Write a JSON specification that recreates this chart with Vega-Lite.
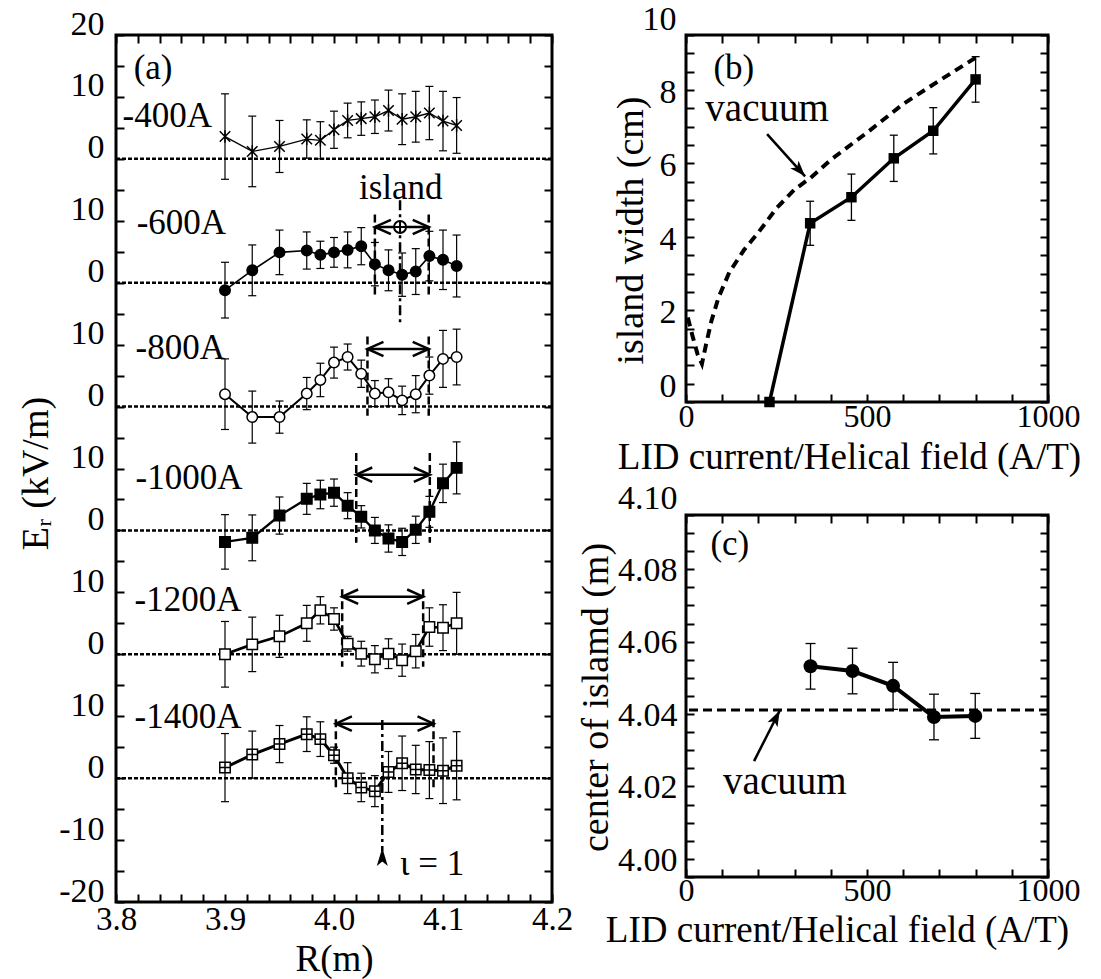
{
"$schema": "https://vega.github.io/schema/vega-lite/v6.json",
"background": "white",
"padding": {"left": 15, "top": 0, "right": 0, "bottom": 0},
"bounds": "flush",
"spacing": 134,
"datasets": {
"traces": [
{"I":-400,"R":3.9,"Er":3.6,"err":6.9},{"I":-400,"R":3.925,"Er":1.2,"err":5.7},{"I":-400,"R":3.95,"Er":2.0,"err":4.2},{"I":-400,"R":3.975,"Er":3.2,"err":3.1},{"I":-400,"R":3.9875,"Er":3.0,"err":3.0},{"I":-400,"R":4.0,"Er":4.7,"err":3.0},{"I":-400,"R":4.0125,"Er":6.2,"err":2.8},{"I":-400,"R":4.025,"Er":6.5,"err":2.7},{"I":-400,"R":4.0375,"Er":6.8,"err":2.7},{"I":-400,"R":4.05,"Er":7.8,"err":3.3},{"I":-400,"R":4.0625,"Er":6.4,"err":4.1},{"I":-400,"R":4.075,"Er":6.8,"err":4.1},{"I":-400,"R":4.0875,"Er":7.4,"err":4.3},{"I":-400,"R":4.1,"Er":6.1,"err":4.8},{"I":-400,"R":4.1125,"Er":5.4,"err":4.5},
{"I":-600,"R":3.9,"Er":-1.2,"err":4.5},{"I":-600,"R":3.925,"Er":2.0,"err":4.1},{"I":-600,"R":3.95,"Er":4.9,"err":3.6},{"I":-600,"R":3.975,"Er":5.2,"err":3.0},{"I":-600,"R":3.9875,"Er":4.5,"err":2.2},{"I":-600,"R":4.0,"Er":4.9,"err":2.4},{"I":-600,"R":4.0125,"Er":5.3,"err":2.9},{"I":-600,"R":4.025,"Er":5.9,"err":3.0},{"I":-600,"R":4.0375,"Er":3.0,"err":3.5},{"I":-600,"R":4.05,"Er":2.0,"err":3.3},{"I":-600,"R":4.0625,"Er":1.3,"err":3.5},{"I":-600,"R":4.075,"Er":1.8,"err":3.7},{"I":-600,"R":4.0875,"Er":4.3,"err":4.0},{"I":-600,"R":4.1,"Er":3.7,"err":4.8},{"I":-600,"R":4.1125,"Er":2.7,"err":5.0},
{"I":-800,"R":3.9,"Er":2.0,"err":5.7},{"I":-800,"R":3.925,"Er":-1.7,"err":4.2},{"I":-800,"R":3.95,"Er":-1.7,"err":2.6},{"I":-800,"R":3.975,"Er":2.1,"err":2.6},{"I":-800,"R":3.9875,"Er":4.3,"err":2.7},{"I":-800,"R":4.0,"Er":7.1,"err":2.5},{"I":-800,"R":4.0125,"Er":8.0,"err":2.1},{"I":-800,"R":4.025,"Er":5.3,"err":2.2},{"I":-800,"R":4.0375,"Er":2.1,"err":2.1},{"I":-800,"R":4.05,"Er":2.3,"err":2.2},{"I":-800,"R":4.0625,"Er":1.0,"err":2.3},{"I":-800,"R":4.075,"Er":2.0,"err":3.0},{"I":-800,"R":4.0875,"Er":5.0,"err":3.0},{"I":-800,"R":4.1,"Er":7.7,"err":4.6},{"I":-800,"R":4.1125,"Er":8.0,"err":4.5},
{"I":-1000,"R":3.9,"Er":-1.85,"err":4.4},{"I":-1000,"R":3.925,"Er":-1.2,"err":3.7},{"I":-1000,"R":3.95,"Er":2.4,"err":3.0},{"I":-1000,"R":3.975,"Er":5.1,"err":2.5},{"I":-1000,"R":3.9875,"Er":5.8,"err":2.3},{"I":-1000,"R":4.0,"Er":6.1,"err":2.2},{"I":-1000,"R":4.0125,"Er":4.0,"err":2.1},{"I":-1000,"R":4.025,"Er":2.2,"err":1.8},{"I":-1000,"R":4.0375,"Er":0.0,"err":2.1},{"I":-1000,"R":4.05,"Er":-1.3,"err":2.2},{"I":-1000,"R":4.0625,"Er":-1.85,"err":2.2},{"I":-1000,"R":4.075,"Er":0.1,"err":2.2},{"I":-1000,"R":4.0875,"Er":3.0,"err":2.5},{"I":-1000,"R":4.1,"Er":7.6,"err":3.1},{"I":-1000,"R":4.1125,"Er":10.1,"err":4.2},
{"I":-1200,"R":3.9,"Er":0.0,"err":5.3},{"I":-1200,"R":3.925,"Er":1.6,"err":4.4},{"I":-1200,"R":3.95,"Er":2.9,"err":3.4},{"I":-1200,"R":3.975,"Er":5.0,"err":2.9},{"I":-1200,"R":3.9875,"Er":7.1,"err":2.2},{"I":-1200,"R":4.0,"Er":5.7,"err":1.8},{"I":-1200,"R":4.0125,"Er":1.7,"err":1.2},{"I":-1200,"R":4.025,"Er":0.1,"err":2.0},{"I":-1200,"R":4.0375,"Er":-0.8,"err":2.2},{"I":-1200,"R":4.05,"Er":0.1,"err":2.4},{"I":-1200,"R":4.0625,"Er":-0.95,"err":2.6},{"I":-1200,"R":4.075,"Er":0.5,"err":2.7},{"I":-1200,"R":4.0875,"Er":4.4,"err":3.1},{"I":-1200,"R":4.1,"Er":4.3,"err":3.7},{"I":-1200,"R":4.1125,"Er":5.0,"err":5.0},
{"I":-1400,"R":3.9,"Er":1.7,"err":5.5},{"I":-1400,"R":3.925,"Er":3.8,"err":3.8},{"I":-1400,"R":3.95,"Er":5.5,"err":3.0},{"I":-1400,"R":3.975,"Er":7.1,"err":2.8},{"I":-1400,"R":3.9875,"Er":6.3,"err":2.8},{"I":-1400,"R":4.0,"Er":3.7,"err":1.3},{"I":-1400,"R":4.0125,"Er":0.0,"err":2.5},{"I":-1400,"R":4.025,"Er":-1.5,"err":2.3},{"I":-1400,"R":4.0375,"Er":-2.1,"err":2.5},{"I":-1400,"R":4.05,"Er":1.0,"err":3.3},{"I":-1400,"R":4.0625,"Er":2.4,"err":4.4},{"I":-1400,"R":4.075,"Er":1.4,"err":3.9},{"I":-1400,"R":4.0875,"Er":1.3,"err":4.6},{"I":-1400,"R":4.1,"Er":1.2,"err":5.3},{"I":-1400,"R":4.1125,"Er":2.0,"err":5.5}
],
"baselines": [{"I":-400},{"I":-600},{"I":-800},{"I":-1000},{"I":-1200},{"I":-1400}],
"islands": [
{"I":-600,"left":4.0375,"right":4.0869,"arr":9.0,"top":11.0,"bot":-2.0},
{"I":-800,"left":4.0307,"right":4.0869,"arr":9.3,"top":11.3,"bot":-1.5},
{"I":-1000,"left":4.0204,"right":4.0879,"arr":9.0,"top":12.5,"bot":-2.0},
{"I":-1200,"left":4.0075,"right":4.0818,"arr":9.3,"top":10.5,"bot":-2.0},
{"I":-1400,"left":4.0017,"right":4.0913,"arr":8.8,"top":9.5,"bot":-2.0}],
"centers": [{"I":-600,"R":4.0606,"top":13.3,"bot":-6.7},{"I":-1400,"R":4.0443,"top":9.4,"bot":-11.8}],
"marksA": [{"kind":"oplus","I":-600,"R":4.0606,"yr":9.0},{"kind":"up","I":-1400,"R":4.0443,"yr":-11.8}],
"labelsA": [
{"t":"(a)","I":-400,"R":3.834,"yr":14.7},
{"t":"-400A","I":-400,"R":3.847,"yr":7.0},
{"t":"-600A","I":-600,"R":3.86,"yr":9.7},
{"t":"-800A","I":-800,"R":3.859,"yr":9.4},
{"t":"-1000A","I":-1000,"R":3.867,"yr":8.5},
{"t":"-1200A","I":-1200,"R":3.866,"yr":8.7},
{"t":"-1400A","I":-1400,"R":3.866,"yr":9.9},
{"t":"island","I":-600,"R":4.0613,"yr":15.3},
{"t":"ι = 1","I":-1400,"R":4.09,"yr":-13.9}],
"dummyA": [{"R":4.0,"y":50}],
"vacB": [{"x":5,"w":2.3},{"x":18,"w":1.8},{"x":32,"w":1.3},{"x":44,"w":1.04},{"x":55,"w":1.55},{"x":70,"w":2.2},{"x":90,"w":2.85},{"x":120,"w":3.54},{"x":160,"w":4.14},{"x":200,"w":4.62},{"x":250,"w":5.28},{"x":300,"w":5.79},{"x":343,"w":6.1},{"x":400,"w":6.6},{"x":500,"w":7.34},{"x":600,"w":8.12},{"x":700,"w":8.76},{"x":800,"w":9.38}],
"solidB": [{"x":230.6,"w":0,"err":0},{"x":343,"w":4.87,"err":0.6},{"x":457,"w":5.58,"err":0.63},{"x":574,"w":6.64,"err":0.63},{"x":683,"w":7.39,"err":0.63},{"x":800,"w":8.79,"err":0.62}],
"arrowB": [{"ax":224,"ay":7.3,"bx":329,"by":6.15}],
"txtB": [{"t":"vacuum","x":224,"w":7.98},{"t":"(b)","x":132,"w":9.1}],
"dummyB": [{"x":500,"w":5}],
"solidC": [{"x":344,"c":4.0582,"err":0.0063},{"x":460,"c":4.0569,"err":0.0063},{"x":572,"c":4.0528,"err":0.0065},{"x":685,"c":4.0442,"err":0.0063},{"x":799,"c":4.0445,"err":0.0062}],
"vacC": [{"c":4.0461}],
"arrowC": [{"ax":188,"ay":4.032,"bx":259,"by":4.046}],
"txtC": [{"t":"vacuum","x":273,"c":4.0263},{"t":"(c)","x":121,"c":4.0919}],
"dummyC": [{"x":500,"c":4.05}]
},
"hconcat": [
{
"width": 436, "height": 867,
"resolve": {"axis": {"x": "independent", "y": "independent"}, "scale": {"shape": "independent", "fill": "independent"}},
"layer": [
{"data": {"name": "baselines"},
 "transform": [{"calculate": "(datum.I + 1400) / 10", "as": "y"}],
 "mark": {"type": "rule", "strokeDash": [4, 2], "strokeWidth": 2.5, "color": "black"},
 "encoding": {"y": {"field": "y", "type": "quantitative", "scale": {"domain": [-20, 120], "nice": false, "zero": false},
   "axis": {"orient": "left", "values": [-20,-10,0,10,20,30,40,50,60,70,80,90,100,110,120],
     "labelExpr": "datum.value == 120 ? '20' : datum.value == -10 ? '-10' : datum.value == -20 ? '-20' : datum.value % 20 == 0 ? '0' : '10'",
     "ticks": false, "labelPadding": 12, "labelOffset": -11, "labelBaseline": "middle",
     "title": "Eᵣ (kV/m)", "titleX": -80, "titleY": 438, "titleBaseline": "middle"}}}},
{"data": {"name": "traces"},
 "transform": [{"calculate": "datum.Er + (datum.I + 1400) / 10", "as": "y"}],
 "mark": {"type": "line", "color": "black"},
 "encoding": {
   "x": {"field": "R", "type": "quantitative", "scale": {"domain": [3.8, 4.2], "nice": false, "zero": false},
     "axis": {"orient": "bottom", "values": [3.8, 3.9, 4.0, 4.1, 4.2], "format": ".1f", "ticks": false, "labelPadding": 1, "labelFontSize": 33,
       "title": "R(m)", "titleFontSize": 37, "titleX": 218, "titleY": 57, "titleBaseline": "middle"}},
   "y": {"field": "y", "type": "quantitative", "axis": null},
   "detail": {"field": "I", "type": "nominal"},
   "strokeWidth": {"field": "I", "type": "quantitative", "scale": {"domain": [-400, -1400], "range": [1.3, 3]}, "legend": null}}},
{"data": {"name": "traces"},
 "transform": [{"calculate": "datum.Er + (datum.I + 1400) / 10 - datum.err", "as": "lo"}, {"calculate": "datum.Er + (datum.I + 1400) / 10 + datum.err", "as": "hi"}],
 "mark": {"type": "rule", "color": "black", "strokeWidth": 1.2},
 "encoding": {"x": {"field": "R", "type": "quantitative", "axis": null}, "y": {"field": "lo", "type": "quantitative", "axis": null}, "y2": {"field": "hi"}}},
{"data": {"name": "traces"},
 "transform": [{"calculate": "datum.Er + (datum.I + 1400) / 10 - datum.err", "as": "lo"}, {"calculate": "datum.Er + (datum.I + 1400) / 10 + datum.err", "as": "hi"}, {"fold": ["lo", "hi"], "as": ["end", "yv"]}],
 "mark": {"type": "tick", "orient": "horizontal", "size": 8, "thickness": 1.2, "color": "black", "opacity": 1},
 "encoding": {"x": {"field": "R", "type": "quantitative", "axis": null}, "y": {"field": "yv", "type": "quantitative", "axis": null}}},
{"data": {"name": "islands"},
 "transform": [{"calculate": "datum.top + (datum.I + 1400) / 10", "as": "yt"}, {"calculate": "datum.bot + (datum.I + 1400) / 10", "as": "yb"}, {"fold": ["left", "right"], "as": ["side", "Rx"]}],
 "mark": {"type": "rule", "strokeDash": [8, 4], "strokeWidth": 2.5, "color": "black"},
 "encoding": {"x": {"field": "Rx", "type": "quantitative", "axis": null}, "y": {"field": "yt", "type": "quantitative", "axis": null}, "y2": {"field": "yb"}}},
{"data": {"name": "islands"},
 "transform": [{"calculate": "datum.arr + (datum.I + 1400) / 10", "as": "ya"}],
 "mark": {"type": "rule", "strokeWidth": 2.5, "color": "black"},
 "encoding": {"x": {"field": "left", "type": "quantitative", "axis": null}, "x2": {"field": "right"}, "y": {"field": "ya", "type": "quantitative", "axis": null}}},
{"data": {"name": "islands"},
 "transform": [{"calculate": "datum.arr + (datum.I + 1400) / 10", "as": "ya"}, {"fold": ["left", "right"], "as": ["side", "Rx"]}],
 "mark": {"type": "point", "filled": false, "stroke": "black", "strokeWidth": 2.5, "opacity": 1, "size": 256},
 "encoding": {"x": {"field": "Rx", "type": "quantitative", "axis": null}, "y": {"field": "ya", "type": "quantitative", "axis": null},
   "shape": {"field": "side", "type": "nominal", "scale": {"domain": ["left", "right"], "range": ["M2,-0.9L0,0L2,0.9", "M-2,-0.9L0,0L-2,0.9"]}, "legend": null}}},
{"data": {"name": "centers"},
 "transform": [{"calculate": "datum.top + (datum.I + 1400) / 10", "as": "yt"}, {"calculate": "datum.bot + (datum.I + 1400) / 10", "as": "yb"}],
 "mark": {"type": "rule", "strokeDash": [10, 4, 3, 4], "strokeWidth": 2.5, "color": "black"},
 "encoding": {"x": {"field": "R", "type": "quantitative", "axis": null}, "y": {"field": "yt", "type": "quantitative", "axis": null}, "y2": {"field": "yb"}}},
{"data": {"name": "traces"},
 "transform": [{"calculate": "datum.Er + (datum.I + 1400) / 10", "as": "y"}],
 "mark": {"type": "point", "filled": true, "stroke": "black", "strokeWidth": 1.5, "opacity": 1, "size": 110},
 "encoding": {"x": {"field": "R", "type": "quantitative", "axis": null}, "y": {"field": "y", "type": "quantitative", "axis": null},
   "shape": {"field": "I", "type": "nominal", "scale": {"domain": [-400, -600, -800, -1000, -1200, -1400], "range": ["M-1,-1L1,1M-1,1L1,-1M0,-1.2L0,1.2", "circle", "circle", "square", "square", "M-1,-1L1,-1L1,1L-1,1ZM0,-1L0,1M-1,0L1,0"]}, "legend": null},
   "fill": {"field": "I", "type": "nominal", "scale": {"domain": [-400, -600, -800, -1000, -1200, -1400], "range": ["black", "black", "white", "black", "white", "white"]}, "legend": null}}},
{"data": {"name": "marksA"},
 "transform": [{"calculate": "datum.yr + (datum.I + 1400) / 10", "as": "y"}],
 "mark": {"type": "point", "filled": true, "stroke": "black", "strokeWidth": 2, "opacity": 1, "size": 144},
 "encoding": {"x": {"field": "R", "type": "quantitative", "axis": null}, "y": {"field": "y", "type": "quantitative", "axis": null},
   "shape": {"field": "kind", "type": "nominal", "scale": {"domain": ["oplus", "up"], "range": ["M-1,0A1,1,0,1,0,1,0A1,1,0,1,0,-1,0ZM-1,0L1,0M0,-1L0,1", "M0,0L0.6,2L0,1.5L-0.6,2Z"]}, "legend": null},
   "fill": {"field": "kind", "type": "nominal", "scale": {"domain": ["oplus", "up"], "range": ["white", "black"]}, "legend": null}}},
{"data": {"name": "labelsA"},
 "transform": [{"calculate": "datum.yr + (datum.I + 1400) / 10", "as": "y"}],
 "mark": {"type": "text", "font": "Liberation Serif, Times New Roman, DejaVu Serif, serif", "fontSize": 35, "color": "black", "align": "center", "baseline": "middle"},
 "encoding": {"x": {"field": "R", "type": "quantitative", "axis": null}, "y": {"field": "y", "type": "quantitative", "axis": null}, "text": {"field": "t"}}},
{"data": {"name": "dummyA"},
 "mark": {"type": "point", "opacity": 0},
 "encoding": {
   "x": {"field": "R", "type": "quantitative", "axis": {"orient": "bottom", "values": [3.8,3.82,3.84,3.86,3.88,3.9,3.92,3.94,3.96,3.98,4.0,4.02,4.04,4.06,4.08,4.1,4.12,4.14,4.16,4.18,4.2], "labels": false, "tickSize": -8, "title": null}},
   "y": {"field": "y", "type": "quantitative", "axis": {"orient": "left", "values": [-20,-15,-10,-5,0,5,10,15,20,25,30,35,40,45,50,55,60,65,70,75,80,85,90,95,100,105,110,115,120], "labels": false, "tickSize": -8, "title": null}}}},
{"data": {"name": "dummyA"},
 "mark": {"type": "point", "opacity": 0},
 "encoding": {
   "x": {"field": "R", "type": "quantitative", "axis": {"orient": "top", "values": [3.8,3.82,3.84,3.86,3.88,3.9,3.92,3.94,3.96,3.98,4.0,4.02,4.04,4.06,4.08,4.1,4.12,4.14,4.16,4.18,4.2], "labels": false, "tickSize": -8, "title": null}},
   "y": {"field": "y", "type": "quantitative", "axis": {"orient": "right", "values": [-20,-15,-10,-5,0,5,10,15,20,25,30,35,40,45,50,55,60,65,70,75,80,85,90,95,100,105,110,115,120], "labels": false, "tickSize": -8, "title": null}}}}
]
},
{
"vconcat": [
{
"width": 362, "height": 367,
"resolve": {"axis": {"x": "independent", "y": "independent"}},
"layer": [
{"data": {"name": "vacB"},
 "mark": {"type": "line", "color": "black", "strokeWidth": 4, "strokeDash": [9, 6]},
 "encoding": {
   "x": {"field": "x", "type": "quantitative", "scale": {"domain": [0, 1000], "nice": false, "zero": false},
     "axis": {"orient": "bottom", "values": [0, 500, 1000], "format": "d", "ticks": false, "labelPadding": -1, "labelFontSize": 32,
       "title": "LID current/Helical field (A/T)", "titleFontSize": 37, "titleX": 163, "titleY": 55, "titleBaseline": "middle"}},
   "y": {"field": "w", "type": "quantitative", "scale": {"domain": [0, 10], "nice": false, "zero": false},
     "axis": {"orient": "left", "values": [0, 2, 4, 6, 8, 10], "format": "d", "ticks": false, "labelPadding": 10, "labelOffset": -16, "labelBaseline": "middle",
       "title": "island width (cm)", "titleX": -55, "titleY": 195, "titleBaseline": "middle"}}}},
{"data": {"name": "solidB"},
 "mark": {"type": "line", "color": "black", "strokeWidth": 3.5},
 "encoding": {"x": {"field": "x", "type": "quantitative", "axis": null}, "y": {"field": "w", "type": "quantitative", "axis": null}}},
{"data": {"name": "solidB"},
 "transform": [{"filter": "datum.err > 0"}, {"calculate": "datum.w - datum.err", "as": "lo"}, {"calculate": "datum.w + datum.err", "as": "hi"}],
 "mark": {"type": "rule", "color": "black", "strokeWidth": 1.3},
 "encoding": {"x": {"field": "x", "type": "quantitative", "axis": null}, "y": {"field": "lo", "type": "quantitative", "axis": null}, "y2": {"field": "hi"}}},
{"data": {"name": "solidB"},
 "transform": [{"filter": "datum.err > 0"}, {"calculate": "datum.w - datum.err", "as": "lo"}, {"calculate": "datum.w + datum.err", "as": "hi"}, {"fold": ["lo", "hi"], "as": ["end", "yv"]}],
 "mark": {"type": "tick", "orient": "horizontal", "size": 8, "thickness": 1.3, "color": "black", "opacity": 1},
 "encoding": {"x": {"field": "x", "type": "quantitative", "axis": null}, "y": {"field": "yv", "type": "quantitative", "axis": null}}},
{"data": {"name": "solidB"},
 "mark": {"type": "point", "shape": "square", "filled": true, "color": "black", "opacity": 1, "size": 110},
 "encoding": {"x": {"field": "x", "type": "quantitative", "axis": null}, "y": {"field": "w", "type": "quantitative", "axis": null}}},
{"data": {"name": "arrowB"},
 "mark": {"type": "rule", "color": "black", "strokeWidth": 2.5},
 "encoding": {"x": {"field": "ax", "type": "quantitative", "axis": null}, "y": {"field": "ay", "type": "quantitative", "axis": null}, "x2": {"field": "bx"}, "y2": {"field": "by"}}},
{"data": {"name": "arrowB"},
 "mark": {"type": "point", "shape": "M0,0L0.7,2L0,1.5L-0.7,2Z", "filled": true, "color": "black", "opacity": 1, "size": 256, "angle": 138},
 "encoding": {"x": {"field": "bx", "type": "quantitative", "axis": null}, "y": {"field": "by", "type": "quantitative", "axis": null}}},
{"data": {"name": "txtB"},
 "transform": [{"filter": "datum.t == 'vacuum'"}],
 "mark": {"type": "text", "font": "Liberation Serif, Times New Roman, DejaVu Serif, serif", "fontSize": 39, "color": "black", "align": "center", "baseline": "middle"},
 "encoding": {"x": {"field": "x", "type": "quantitative", "axis": null}, "y": {"field": "w", "type": "quantitative", "axis": null}, "text": {"field": "t"}}},
{"data": {"name": "txtB"},
 "transform": [{"filter": "datum.t != 'vacuum'"}],
 "mark": {"type": "text", "font": "Liberation Serif, Times New Roman, DejaVu Serif, serif", "fontSize": 35, "color": "black", "align": "center", "baseline": "middle"},
 "encoding": {"x": {"field": "x", "type": "quantitative", "axis": null}, "y": {"field": "w", "type": "quantitative", "axis": null}, "text": {"field": "t"}}},
{"data": {"name": "dummyB"},
 "mark": {"type": "point", "opacity": 0},
 "encoding": {
   "x": {"field": "x", "type": "quantitative", "axis": {"orient": "bottom", "values": [0,100,200,300,400,500,600,700,800,900,1000], "labels": false, "tickSize": -8, "title": null}},
   "y": {"field": "w", "type": "quantitative", "axis": {"orient": "left", "values": [0,0.5,1,1.5,2,2.5,3,3.5,4,4.5,5,5.5,6,6.5,7,7.5,8,8.5,9,9.5,10], "labels": false, "tickSize": -8, "title": null}}}},
{"data": {"name": "dummyB"},
 "mark": {"type": "point", "opacity": 0},
 "encoding": {
   "x": {"field": "x", "type": "quantitative", "axis": {"orient": "top", "values": [0,100,200,300,400,500,600,700,800,900,1000], "labels": false, "tickSize": -8, "title": null}},
   "y": {"field": "w", "type": "quantitative", "axis": {"orient": "right", "values": [0,0.5,1,1.5,2,2.5,3,3.5,4,4.5,5,5.5,6,6.5,7,7.5,8,8.5,9,9.5,10], "labels": false, "tickSize": -8, "title": null}}}}
]
},
{
"width": 362, "height": 362,
"resolve": {"axis": {"x": "independent", "y": "independent"}},
"layer": [
{"data": {"name": "vacC"},
 "mark": {"type": "rule", "color": "black", "strokeWidth": 3, "strokeDash": [9, 5]},
 "encoding": {"y": {"field": "c", "type": "quantitative", "scale": {"domain": [4.0, 4.1], "nice": false, "zero": false},
     "axis": {"orient": "left", "values": [4.0, 4.02, 4.04, 4.06, 4.08, 4.1], "format": ".2f", "ticks": false, "labelPadding": 9, "labelOffset": -17, "labelBaseline": "middle",
       "title": "center of islamd (m)", "titleX": -90, "titleY": 182, "titleBaseline": "middle"}}}},
{"data": {"name": "solidC"},
 "mark": {"type": "line", "color": "black", "strokeWidth": 4},
 "encoding": {
   "x": {"field": "x", "type": "quantitative", "scale": {"domain": [0, 1000], "nice": false, "zero": false},
     "axis": {"orient": "bottom", "values": [0, 500, 1000], "format": "d", "ticks": false, "labelPadding": -2, "labelFontSize": 32,
       "title": "LID current/Helical field (A/T)", "titleFontSize": 37, "titleX": 151, "titleY": 53, "titleBaseline": "middle"}},
   "y": {"field": "c", "type": "quantitative", "axis": null}}},
{"data": {"name": "solidC"},
 "transform": [{"calculate": "datum.c - datum.err", "as": "lo"}, {"calculate": "datum.c + datum.err", "as": "hi"}],
 "mark": {"type": "rule", "color": "black", "strokeWidth": 1.3},
 "encoding": {"x": {"field": "x", "type": "quantitative", "axis": null}, "y": {"field": "lo", "type": "quantitative", "axis": null}, "y2": {"field": "hi"}}},
{"data": {"name": "solidC"},
 "transform": [{"calculate": "datum.c - datum.err", "as": "lo"}, {"calculate": "datum.c + datum.err", "as": "hi"}, {"fold": ["lo", "hi"], "as": ["end", "yv"]}],
 "mark": {"type": "tick", "orient": "horizontal", "size": 10, "thickness": 1.3, "color": "black", "opacity": 1},
 "encoding": {"x": {"field": "x", "type": "quantitative", "axis": null}, "y": {"field": "yv", "type": "quantitative", "axis": null}}},
{"data": {"name": "solidC"},
 "mark": {"type": "point", "shape": "circle", "filled": true, "color": "black", "opacity": 1, "size": 196},
 "encoding": {"x": {"field": "x", "type": "quantitative", "axis": null}, "y": {"field": "c", "type": "quantitative", "axis": null}}},
{"data": {"name": "arrowC"},
 "mark": {"type": "rule", "color": "black", "strokeWidth": 2.5},
 "encoding": {"x": {"field": "ax", "type": "quantitative", "axis": null}, "y": {"field": "ay", "type": "quantitative", "axis": null}, "x2": {"field": "bx"}, "y2": {"field": "by"}}},
{"data": {"name": "arrowC"},
 "mark": {"type": "point", "shape": "M0,0L0.7,2L0,1.5L-0.7,2Z", "filled": true, "color": "black", "opacity": 1, "size": 256, "angle": 27},
 "encoding": {"x": {"field": "bx", "type": "quantitative", "axis": null}, "y": {"field": "by", "type": "quantitative", "axis": null}}},
{"data": {"name": "txtC"},
 "transform": [{"filter": "datum.t == 'vacuum'"}],
 "mark": {"type": "text", "font": "Liberation Serif, Times New Roman, DejaVu Serif, serif", "fontSize": 39, "color": "black", "align": "center", "baseline": "middle"},
 "encoding": {"x": {"field": "x", "type": "quantitative", "axis": null}, "y": {"field": "c", "type": "quantitative", "axis": null}, "text": {"field": "t"}}},
{"data": {"name": "txtC"},
 "transform": [{"filter": "datum.t != 'vacuum'"}],
 "mark": {"type": "text", "font": "Liberation Serif, Times New Roman, DejaVu Serif, serif", "fontSize": 35, "color": "black", "align": "center", "baseline": "middle"},
 "encoding": {"x": {"field": "x", "type": "quantitative", "axis": null}, "y": {"field": "c", "type": "quantitative", "axis": null}, "text": {"field": "t"}}},
{"data": {"name": "dummyC"},
 "mark": {"type": "point", "opacity": 0},
 "encoding": {
   "x": {"field": "x", "type": "quantitative", "axis": {"orient": "bottom", "values": [0,100,200,300,400,500,600,700,800,900,1000], "labels": false, "tickSize": -8, "title": null}},
   "y": {"field": "c", "type": "quantitative", "axis": {"orient": "left", "values": [4.0,4.005,4.01,4.015,4.02,4.025,4.03,4.035,4.04,4.045,4.05,4.055,4.06,4.065,4.07,4.075,4.08,4.085,4.09,4.095,4.1], "labels": false, "tickSize": -8, "title": null}}}},
{"data": {"name": "dummyC"},
 "mark": {"type": "point", "opacity": 0},
 "encoding": {
   "x": {"field": "x", "type": "quantitative", "axis": {"orient": "top", "values": [0,100,200,300,400,500,600,700,800,900,1000], "labels": false, "tickSize": -8, "title": null}},
   "y": {"field": "c", "type": "quantitative", "axis": {"orient": "right", "values": [4.0,4.005,4.01,4.015,4.02,4.025,4.03,4.035,4.04,4.045,4.05,4.055,4.06,4.065,4.07,4.075,4.08,4.085,4.09,4.095,4.1], "labels": false, "tickSize": -8, "title": null}}}}
]
}
],
"spacing": 113,
"bounds": "flush"
}
],
"config": {
"font": "Liberation Serif, Times New Roman, DejaVu Serif, serif",
"view": {"stroke": "black", "strokeWidth": 3},
"axis": {"grid": false, "domain": false, "labelFont": "Liberation Serif, Times New Roman, DejaVu Serif, serif", "titleFont": "Liberation Serif, Times New Roman, DejaVu Serif, serif", "labelFontSize": 34, "titleFontSize": 38, "titleFontWeight": "normal", "labelColor": "black", "titleColor": "black", "tickColor": "black", "tickWidth": 2, "labelFlush": false, "labelOverlap": false, "labelBound": false},
"text": {"font": "Liberation Serif, Times New Roman, DejaVu Serif, serif", "color": "black"}
}
}
